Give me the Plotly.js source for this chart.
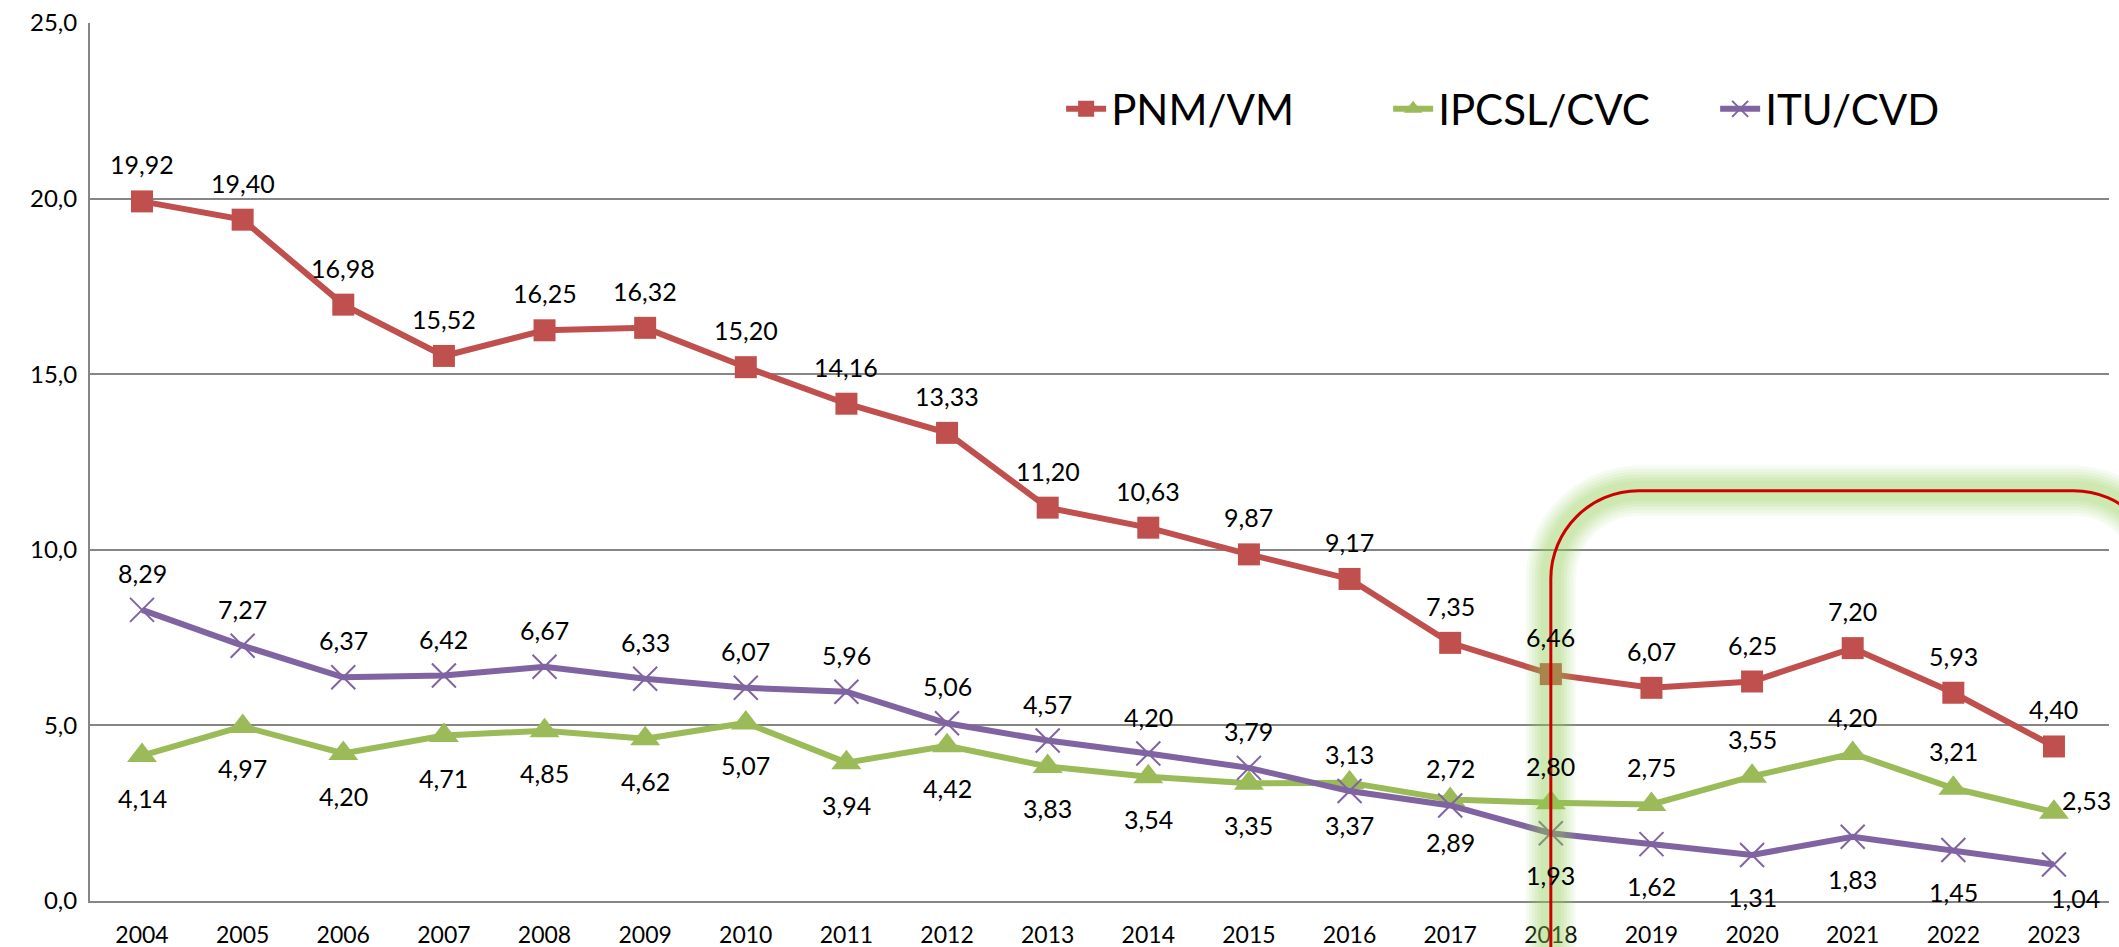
<!DOCTYPE html>
<html>
<head>
<meta charset="utf-8">
<script src="https://cdn.plot.ly/plotly-3.0.1.min.js"></script>
<style>
  html, body { margin: 0; padding: 0; background: #fff; }
  #chart { width: 2119px; height: 947px; }
</style>
</head>
<body>
<div id="chart"></div>
<script>
const years = ['2004', '2005', '2006', '2007', '2008', '2009', '2010', '2011', '2012', '2013',
               '2014', '2015', '2016', '2017', '2018', '2019', '2020', '2021', '2022', '2023'];

const pnmVm = [19.92, 19.40, 16.98, 15.52, 16.25, 16.32, 15.20, 14.16, 13.33, 11.20,
               10.63, 9.87, 9.17, 7.35, 6.46, 6.07, 6.25, 7.20, 5.93, 4.40];
const ipcslCvc = [4.14, 4.97, 4.20, 4.71, 4.85, 4.62, 5.07, 3.94, 4.42, 3.83,
                  3.54, 3.35, 3.37, 2.89, 2.80, 2.75, 3.55, 4.20, 3.21, 2.53];
const ituCvd = [8.29, 7.27, 6.37, 6.42, 6.67, 6.33, 6.07, 5.96, 5.06, 4.57,
                4.20, 3.79, 3.13, 2.72, 1.93, 1.62, 1.31, 1.83, 1.45, 1.04];

// where each data label sits relative to its point
const posPnm = years.map(() => 'above');
const posIpcsl = years.map((y, i) => i < 14 ? 'below' : (i === 19 ? 'right' : 'above'));
const posItu = years.map((y, i) => i < 14 ? 'above' : (i === 19 ? 'belowright' : 'below'));

const red = '#C0504D';
const green = '#9BBB59';
const purple = '#8064A2';
const font = 'Lato, "Open Sans", sans-serif';

const xRange = [-0.517, 19.547];
const yRange = [0, 25];

function fmt(v) {
    return v.toFixed(2).replace('.', ',');
}

// annotations on a category axis take the category index, not the label
function labels(values, positions) {
    return values.map((v, i) => {
        const p = positions[i];
        let xs = 0, ys = 37;
        if (p === 'below') ys = -42;
        if (p === 'right') { xs = 33; ys = 12; }
        if (p === 'belowright') { xs = 22; ys = -34; }
        return {
            x: i, y: v, xref: 'x', yref: 'y',
            text: fmt(v), showarrow: false,
            xshift: xs, yshift: ys,
            font: { family: font, size: 25, color: '#000' },
        };
    });
}

const traces = [
    {
        x: years, y: pnmVm, name: 'PNM/VM',
        type: 'scatter', mode: 'lines+markers',
        line: { color: red, width: 6 },
        marker: { symbol: 'square', size: 22, color: red },
    },
    {
        x: years, y: ipcslCvc, name: 'IPCSL/CVC',
        type: 'scatter', mode: 'lines+markers',
        line: { color: green, width: 6 },
        marker: { symbol: 'triangle-up', size: 26, color: green },
    },
    {
        x: years, y: ituCvd, name: 'ITU/CVD',
        type: 'scatter', mode: 'lines+markers',
        line: { color: purple, width: 6 },
        marker: { symbol: 'x-thin', size: 24, color: purple, line: { color: purple, width: 2 } },
    },
];

// rounded highlight box from 2018 onward (pixel radius converted to paper units)
const plotW = 2119 - 90 - 10;
const plotH = 947 - 23 - 46;
function xp(idx) { return (idx - xRange[0]) / (xRange[1] - xRange[0]); }
function yp(v) { return (v - yRange[0]) / (yRange[1] - yRange[0]); }
function roundedPath(x0, x1, yb, yt, r) {
    const rx = r / plotW, ry = r / plotH, k = 0.4477;
    return [
        `M${x0},${yb + ry}`,
        `L${x0},${yt - ry}`,
        `C${x0},${yt - ry * k} ${x0 + rx * k},${yt} ${x0 + rx},${yt}`,
        `L${x1 - rx},${yt}`,
        `C${x1 - rx * k},${yt} ${x1},${yt - ry * k} ${x1},${yt - ry}`,
        `L${x1},${yb + ry}`,
        `C${x1},${yb + ry * k} ${x1 - rx * k},${yb} ${x1 - rx},${yb}`,
        `L${x0 + rx},${yb}`,
        `C${x0 + rx * k},${yb} ${x0},${yb + ry * k} ${x0},${yb + ry}`,
        'Z',
    ].join(' ');
}
const boxPath = roundedPath(xp(years.indexOf('2018')), 1.026, -0.16, yp(11.68), 88);

// soft green glow: several wide translucent strokes under the red outline
const glow = [[50, 0.07], [44, 0.08], [38, 0.08], [32, 0.09], [26, 0.1], [20, 0.1]].map(([w, o]) => ({
    type: 'path', path: boxPath, xref: 'paper', yref: 'paper', layer: 'above',
    line: { color: 'rgb(146,208,80)', width: w }, opacity: o,
}));
const shapes = [
    ...glow,
    {
        type: 'path', path: boxPath, xref: 'paper', yref: 'paper', layer: 'above',
        line: { color: '#CC0000', width: 3 },
    },
];

const layout = {
    width: 2119,
    height: 947,
    paper_bgcolor: '#fff',
    plot_bgcolor: '#fff',
    separators: ', ',
    margin: { l: 90, r: 10, t: 23, b: 46 },
    font: { family: font, size: 22, color: '#000' },
    showlegend: true,
    legend: {
        orientation: 'h',
        x: 0.481, y: 0.902, xanchor: 'left', yanchor: 'middle',
        font: { family: font, size: 42, color: '#000' },
        itemwidth: 40,
        entrywidth: 272,
        bgcolor: 'rgba(0,0,0,0)',
    },
    xaxis: {
        type: 'category',
        range: xRange,
        showgrid: false,
        showline: true, linecolor: '#868686', linewidth: 2,
        ticks: '',
        ticklabelstandoff: 12,
        tickfont: { family: font, size: 23, color: '#000' },
        fixedrange: true,
    },
    yaxis: {
        range: yRange,
        dtick: 5,
        tickformat: '.1f',
        showgrid: true, gridcolor: '#868686', gridwidth: 2,
        zeroline: false,
        showline: true, linecolor: '#868686', linewidth: 2,
        ticks: '',
        ticklabelstandoff: 6,
        tickfont: { family: font, size: 24, color: '#000' },
        fixedrange: true,
    },
    annotations: [
        ...labels(pnmVm, posPnm),
        ...labels(ipcslCvc, posIpcsl),
        ...labels(ituCvd, posItu),
    ],
    shapes,
};

Plotly.newPlot('chart', traces, layout, { displayModeBar: false, staticPlot: true });
</script>
</body>
</html>
